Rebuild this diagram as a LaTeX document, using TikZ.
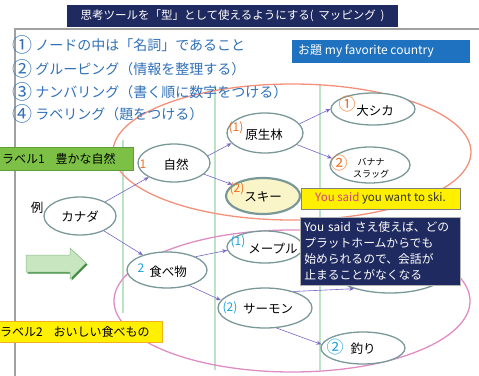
\documentclass[tikz,border=0pt]{standalone}
\usepackage{fontspec}
\setmainfont{Noto Sans CJK JP}
\usetikzlibrary{shapes.geometric,arrows.meta}
\definecolor{navy}{HTML}{1F2A60}
\definecolor{listblue}{HTML}{2F70B8}
\definecolor{topicblue}{HTML}{1F72C0}
\definecolor{ndborder}{HTML}{7A9898}
\definecolor{numorange}{HTML}{F07020}
\definecolor{numblue}{HTML}{1BA1E2}
\definecolor{ellorange}{HTML}{F4907A}
\definecolor{ellpink}{HTML}{E08CC4}
\definecolor{vline}{HTML}{BDE3C6}
\definecolor{arrowc}{HTML}{7565C8}
\definecolor{lab1}{HTML}{7CC046}
\definecolor{lab1b}{HTML}{5E9E3A}
\definecolor{lab2}{HTML}{FFF000}
\definecolor{lab2b}{HTML}{F0B020}
\definecolor{skiyellow}{HTML}{FAF5C8}
\definecolor{saidpink}{HTML}{D63C8C}
\definecolor{blockfill}{HTML}{C8E6C0}
\definecolor{blockdark}{HTML}{3B8A3B}
\definecolor{framegray}{HTML}{A0A0A0}
\newcommand\mybigcirc[1]{\raisebox{-2pt}{\fontsize{20}{16}\selectfont #1}}
\newcommand\mymidcirc[1]{\raisebox{-1.5pt}{\fontsize{17}{16}\selectfont #1}}
\begin{document}
\begin{tikzpicture}[x=1pt,y=-1pt,
  nd/.style={ellipse, draw=ndborder, line width=1.3pt, fill=white, inner sep=0pt},
  ndtext/.style={inner sep=0pt, font=\fontsize{12.5}{14}\selectfont},
  numo/.style={inner sep=0pt, text=numorange, font=\fontsize{12}{14}\selectfont},
  numb/.style={inner sep=0pt, text=numblue, font=\fontsize{12}{14}\selectfont},
  arr/.style={draw=arrowc, line width=0.6pt, -{Stealth[length=5pt,width=4pt]}},
  listitem/.style={anchor=west, inner sep=0pt, text=listblue, font=\fontsize{14}{16}\selectfont},
  vl/.style={draw=vline, line width=1.2pt},
  labbox/.style={anchor=west, inner sep=0pt, font=\fontsize{12}{14}\selectfont}
]
\useasboundingbox (0,0) rectangle (479,375);
% frame
\draw[framegray, line width=1.5pt] (15,376) -- (15,29) -- (480,29);
% vertical guide lines
\draw[vl] (123,140) -- (123,313);
\draw[vl] (215,85) -- (215,370);
\draw[vl] (320,85) -- (320,370);
% group ellipses
\draw[ellorange, line width=1.3pt] (292,152) ellipse [x radius=179, y radius=68];
\draw[ellpink, line width=1.3pt] (292,301) ellipse [x radius=178, y radius=71];
% labels
\fill[lab1, draw=lab1b, line width=0.8pt] (-2,147) rectangle (133,170);
\node[labbox] (lab1t) at (2,158.5) {ラベル1\hspace{0.9em}豊かな自然};
\fill[lab2, draw=lab2b, line width=0.8pt] (-2,321) rectangle (162,342);
\node[labbox] (lab2t) at (0,331.5) {ラベル2\hspace{0.9em}おいしい食べもの};
% block arrow
\fill[blockdark] (27.5,256.5) -- (71.5,256.5) -- (71.5,249.5) -- (87.5,264.5) -- (71.5,280.5) -- (71.5,273.5) -- (27.5,273.5) -- cycle;
\draw[fill=blockfill, draw=blockdark!60, line width=0.5pt] (26,255) -- (70,255) -- (70,248) -- (86,263) -- (70,279) -- (70,272) -- (26,272) -- cycle;
% nodes
\node[ndtext] (rei) at (37,208) {例};
\node[nd, minimum width=72pt, minimum height=38pt] (kanada) at (80,216) {};
\node[ndtext] (kanadaT) at (80,217) {カナダ};
\node[nd, minimum width=72pt, minimum height=38pt] (shizen) at (174,163) {};
\node[ndtext] (shizenT) at (176,165) {自然};
\node[numo] (shizenN) at (143,164) {1};
\node[nd, minimum width=76pt, minimum height=40pt] (gensei) at (265,133) {};
\node[ndtext] (genseiT) at (264,135) {原生林};
\node[numo] (genseiN) at (236,128) {(1)};
\node[nd, fill=skiyellow, line width=2.2pt, minimum width=74pt, minimum height=36pt] (ski) at (263,196) {};
\node[ndtext] (skiT) at (263,197) {スキー};
\node[numo] (skiN) at (237,189) {(2)};
\node[nd, minimum width=84pt, minimum height=32pt] (oshika) at (373,109) {};
\node[ndtext] (oshikaT) at (375,111) {大シカ};
\node[numo] (oshikaN) at (347,104) {\mymidcirc{①}};
\node[nd, minimum width=80pt, minimum height=36pt] (banana) at (370,165) {};
\node[ndtext, align=center, font=\fontsize{9}{12.5}\selectfont] (bananaT) at (371,168) {バナナ\\スラッグ};
\node[numo] (bananaN) at (339,163) {\mymidcirc{②}};
\node[nd, minimum width=80pt, minimum height=36pt] (tabe) at (167,270) {};
\node[ndtext] (tabeT) at (168,272) {食べ物};
\node[numb] (tabeN) at (141,268) {2};
\node[nd, minimum width=76pt, minimum height=32pt] (maple) at (265,247) {};
\node[ndtext] (mapleT) at (273,249) {メープル};
\node[numb] (mapleN) at (238,242) {(1)};
\node[nd, minimum width=120pt, minimum height=50pt] (hidden) at (390,268) {};
\node[nd, minimum width=94pt, minimum height=40pt] (salmon) at (265,308) {};
\node[ndtext] (salmonT) at (268,309) {サーモン};
\node[numb] (salmonN) at (230,308) {(2)};
\node[nd, minimum width=84pt, minimum height=32pt] (tsuri) at (363,348) {};
\node[ndtext] (tsuriT) at (363,349) {釣り};
\node[numb] (tsuriN) at (335,347) {\mymidcirc{②}};
% connectors
\draw[arr] (kanada) -- (shizen);
\draw[arr] (kanada) -- (tabe);
\draw[arr] (shizen.12) -- (gensei.197);
\draw[arr] (shizen) -- (ski);
\draw[arr] (gensei.15) -- (oshika.180);
\draw[arr] (gensei.-20) -- (banana.170);
\draw[arr] (tabe.25) -- (maple.185);
\draw[arr] (tabe.-35) -- (salmon.170);
\draw[arr] (salmon.30) -- (hidden.210);
\draw[arr] (salmon.-60) -- (tsuri.175);
% comment boxes
\node[draw=gray, line width=0.8pt, fill=lab2, minimum width=159pt, minimum height=21pt, inner sep=0pt,
  font=\fontsize{11.5}{14}\selectfont, text=black!80] (said) at (380.5,198.5) {\textcolor{saidpink}{You said} you want to ski.};
\node[fill=navy, draw=gray!60, line width=0.5pt, text=white, anchor=north west, text width=152pt, minimum height=68pt,
  inner xsep=4pt, inner ysep=2pt, align=left, font=\fontsize{11.8}{16}\selectfont] (note) at (300,217)
  {You said さえ使えば、どの\\プラットホームからでも\\始められるので、会話が\\止まることがなくなる};
% header and list
\node[fill=navy, minimum width=331pt, minimum height=22pt, inner sep=0pt, text=white,
  font=\fontsize{11.5}{13}\selectfont] (title) at (232.5,16) {思考ツールを「型」として使えるようにする(\hspace{0.4em}マッピング\hspace{0.4em})};
\node[listitem] (l1) at (12,45) {\mybigcirc{①} ノードの中は「名詞」であること};
\node[listitem] (l2) at (12,69) {\mybigcirc{②} グルーピング（情報を整理する）};
\node[listitem] (l3) at (12,92) {\mybigcirc{③} ナンバリング（書く順に数字をつける）};
\node[listitem] (l4) at (12,114) {\mybigcirc{④} ラベリング（題をつける）};
\node[fill=topicblue, minimum width=178pt, minimum height=23pt, inner sep=0pt] (topic) at (380.5,51) {};
\node[anchor=west, inner sep=0pt, text=white, font=\fontsize{12}{14}\selectfont] (topicT) at (298,51) {お題 my favorite country};
\end{tikzpicture}
\end{document}
